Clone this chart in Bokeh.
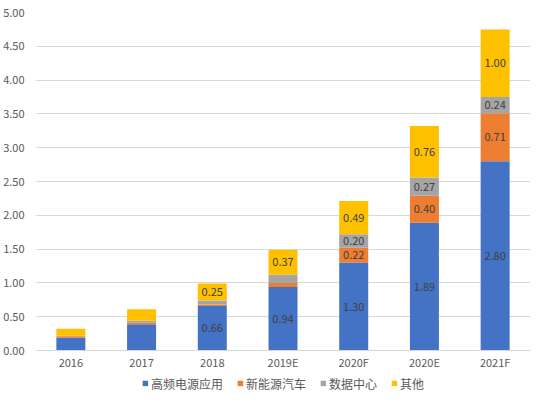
from bokeh.plotting import figure
from bokeh.layouts import column
from bokeh.models import ColumnDataSource, Range1d, FixedTicker, NumeralTickFormatter, Legend, LegendItem
from bokeh.core.properties import value
from bokeh.embed import file_html
from bokeh.resources import INLINE

years = ["2016", "2017", "2018", "2019E", "2020F", "2020E", "2021F"]
series = ["高频电源应用", "新能源汽车", "数据中心", "其他"]
hf_power = [0.19, 0.39, 0.66, 0.94, 1.30, 1.89, 2.80]
nev = [0.02, 0.02, 0.02, 0.06, 0.22, 0.40, 0.71]
data_center = [0.01, 0.03, 0.06, 0.12, 0.20, 0.27, 0.24]
others = [0.10, 0.17, 0.25, 0.37, 0.49, 0.76, 1.00]
labelled_years = [False, False, True, True, True, True, True]
colors = ["#4472C4", "#ED7D31", "#A5A5A5", "#FFC000"]
keys = ["hf", "nev", "dc", "oth"]
y_ticks = [0, 0.5, 1.0, 1.5, 2.0, 2.5, 3.0, 3.5, 4.0, 4.5, 5.0]

font = "Noto Sans CJK SC"
src = ColumnDataSource(dict(x=years, hf=hf_power, nev=nev, dc=data_center, oth=others))

p = figure(x_range=years, y_range=Range1d(0, 5), width=538, height=372,
           output_backend="svg", toolbar_location=None,
           min_border_top=12, min_border_left=10, min_border_right=8, min_border_bottom=4)
p.outline_line_color = None

renderers = p.vbar_stack(keys, x="x", width=0.41, color=colors, line_color=None, source=src)

# data labels at the middle of each segment
lx, ly, lt = [], [], []
for i, yr in enumerate(years):
    base = 0.0
    for vals in (hf_power, nev, data_center, others):
        v = vals[i]
        if labelled_years[i] and v >= 0.2:
            lx.append(yr)
            ly.append(base + v / 2)
            lt.append("%.2f" % v)
        base += v
p.text(x=lx, y=ly, text=lt, text_align="center", text_baseline="middle",
       text_font=value(font), text_font_size="11px", text_color="#404040")

p.yaxis.ticker = FixedTicker(ticks=y_ticks)
p.yaxis.formatter = NumeralTickFormatter(format="0.00")
p.yaxis.axis_line_color = None
p.yaxis.major_tick_line_color = None
p.yaxis.minor_tick_line_color = None
p.xaxis.axis_line_color = "#d9d9d9"
p.xaxis.major_tick_line_color = None
p.xaxis.major_tick_out = 0
p.xaxis.major_label_standoff = 3
p.axis.major_label_text_color = "#595959"
p.axis.major_label_text_font = font
p.axis.major_label_text_font_size = "11px"
p.xgrid.grid_line_color = None
p.ygrid.grid_line_color = "#d9d9d9"
p.x_range.range_padding = 0.0
p.x_range.group_padding = 0.0

# legend strip under the chart (swatch renderers sit outside its visible range)
lg = figure(width=538, height=21, output_backend="svg", toolbar_location=None,
            x_axis_type=None, y_axis_type=None, min_border=0,
            x_range=Range1d(0, 1), y_range=Range1d(0, 1))
lg.outline_line_color = None
lg.grid.grid_line_color = None
swatches = [lg.vbar(x=[-10], top=[-10], width=0.1, fill_color=c, line_color=None) for c in colors]
legend = Legend(items=[LegendItem(label=s, renderers=[r]) for s, r in zip(series, swatches)],
                orientation="horizontal", location="center",
                label_text_font=font, label_text_font_size="12px", label_text_color="#595959",
                glyph_width=7, glyph_height=7, label_standoff=3, spacing=13,
                border_line_color=None, background_fill_alpha=0, padding=2, margin=0)
lg.add_layout(legend, "center")

open("out.html", "w").write(file_html(column(p, lg, spacing=0), INLINE))
